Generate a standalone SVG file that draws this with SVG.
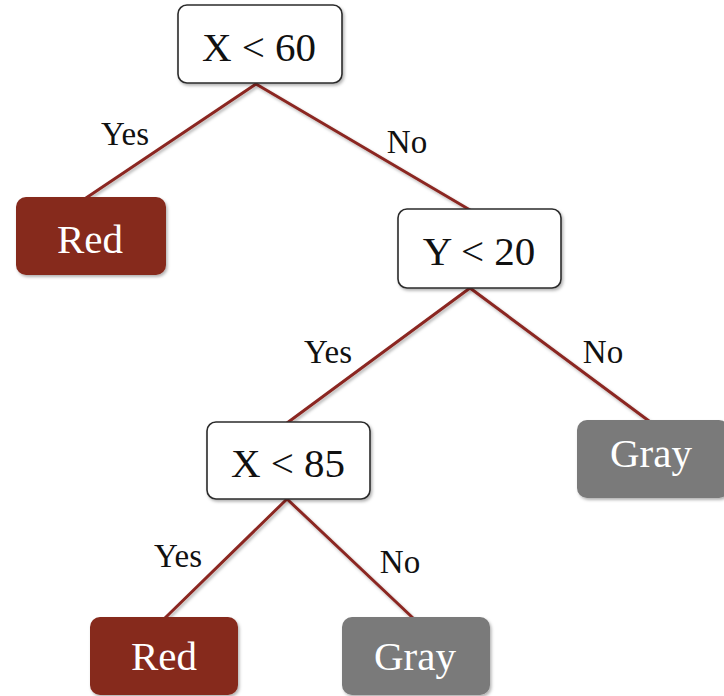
<svg xmlns="http://www.w3.org/2000/svg" width="724" height="696" viewBox="0 0 724 696">
<defs>
<filter id="sh" x="-10%" y="-10%" width="130%" height="140%">
<feDropShadow dx="1.5" dy="2" stdDeviation="1.5" flood-color="#000" flood-opacity="0.3"/>
</filter>
<style>
.edge{stroke:#8B2820;stroke-width:3;fill:none;stroke-linecap:round}
.dec{fill:#fff;stroke:#2b2b2b;stroke-width:1.6}
.red{fill:#86291F}
.gray{fill:#7A7A7A}
.t{font-family:"Liberation Serif","Times New Roman",serif;font-size:41px;text-anchor:middle}
.dt{fill:#111}
.lt{fill:#fff}
.lab{font-family:"Liberation Serif","Times New Roman",serif;font-size:33px;text-anchor:middle;fill:#111}
</style>
</defs>
<rect width="724" height="696" fill="#fff"/>
<g id="connectors" filter="url(#sh)">
<line class="edge" x1="256" y1="84" x2="86" y2="198"/>
<line class="edge" x1="256" y1="84" x2="470" y2="210"/>
<line class="edge" x1="470" y1="288" x2="287" y2="423"/>
<line class="edge" x1="470" y1="288" x2="649" y2="421"/>
<line class="edge" x1="287" y1="499" x2="165" y2="618"/>
<line class="edge" x1="287" y1="499" x2="413" y2="618"/>
</g>
<g id="edge-labels">
<text class="lab" x="125" y="145">Yes</text>
<text class="lab" x="407" y="153">No</text>
<text class="lab" x="328" y="363">Yes</text>
<text class="lab" x="603" y="363">No</text>
<text class="lab" x="178" y="567">Yes</text>
<text class="lab" x="400" y="573">No</text>
</g>
<g id="node-x60">
<rect class="dec" x="178" y="5" width="164" height="78" rx="9" filter="url(#sh)"/>
<text class="t dt" x="259" y="61">X &lt; 60</text>
</g>
<g id="node-red1">
<rect class="red" x="16" y="197" width="150" height="78" rx="10" filter="url(#sh)"/>
<text class="t lt" x="90" y="253">Red</text>
</g>
<g id="node-y20">
<rect class="dec" x="398" y="209" width="163" height="79" rx="9" filter="url(#sh)"/>
<text class="t dt" x="479" y="265">Y &lt; 20</text>
</g>
<g id="node-gray1">
<rect class="gray" x="577" y="420" width="152" height="78" rx="10" filter="url(#sh)"/>
<text class="t lt" x="651" y="467">Gray</text>
</g>
<g id="node-x85">
<rect class="dec" x="207" y="422" width="163" height="77" rx="9" filter="url(#sh)"/>
<text class="t dt" x="288" y="477">X &lt; 85</text>
</g>
<g id="node-red2">
<rect class="red" x="90" y="617" width="148" height="78" rx="10" filter="url(#sh)"/>
<text class="t lt" x="164" y="670">Red</text>
</g>
<g id="node-gray2">
<rect class="gray" x="342" y="617" width="148" height="78" rx="10" filter="url(#sh)"/>
<text class="t lt" x="415" y="670">Gray</text>
</g>
</svg>
